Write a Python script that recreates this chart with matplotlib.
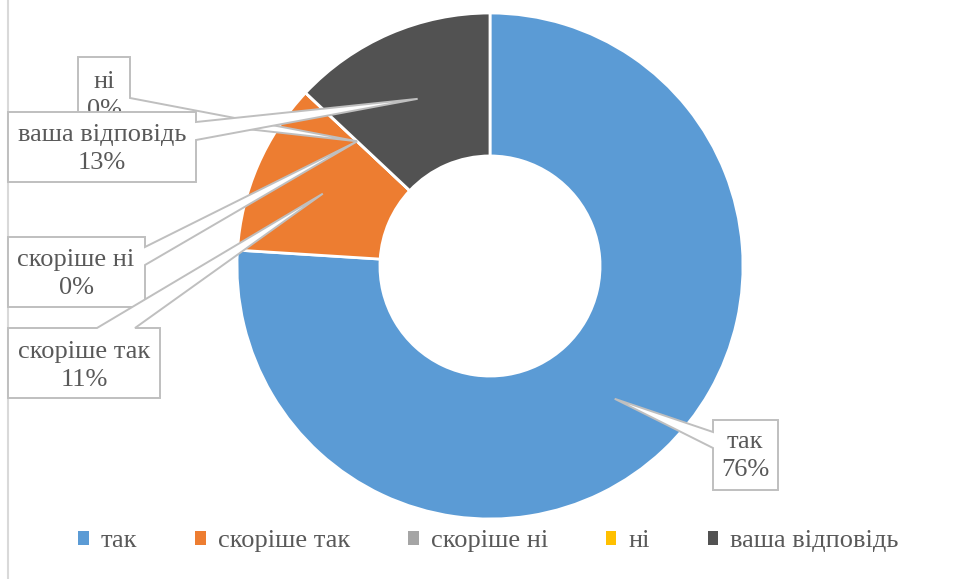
import numpy as np
import matplotlib.pyplot as plt
from matplotlib.patches import Polygon, Patch

# data
labels = ["так", "скоріше так", "скоріше ні", "ні", "ваша відповідь"]
values = [76, 11, 0, 0, 13]
colors = ["#5B9BD5", "#ED7D31", "#A5A5A5", "#FFC000", "#525252"]

TXT = "#595959"
EDGE = "#BFBFBF"
FONT = "Liberation Serif"

W, H = 958, 579
CX, CY, R = 490, 266, 253   # pie centre / radius in pixels

fig = plt.figure(figsize=(W / 100, H / 100), dpi=100)
ax = fig.add_axes([0, 0, 1, 1])

wedges, _ = ax.pie(values, colors=colors, startangle=90, counterclock=False,
                   radius=1, wedgeprops=dict(width=0.565, edgecolor="white", linewidth=2))
ax.set_aspect("auto")
ax.set_xlim(-CX / R, (W - CX) / R)
ax.set_ylim(-(H - CY) / R, CY / R)
ax.axis("off")


def p2d(px, py):
    return ((px - CX) / R, (CY - py) / R)


def tip_of(w):
    a = np.deg2rad((w.theta1 + w.theta2) / 2)
    return (0.72 * np.cos(a), 0.72 * np.sin(a))


# callout boxes: (box x0, y0, x1, y1 in px), side, pointer base, text centre
callouts = [
    (3, (78, 57, 130, 133), "right", (98, 116), (104, 96)),
    (4, (8, 112, 196, 182), "right", (122, 140), (102, 149)),
    (2, (8, 237, 145, 307), "right", (247, 265), (76, 274)),
    (1, (8, 328, 160, 398), "top", (97, 135), (84, 366)),
    (0, (713, 420, 778, 490), "left", (432, 448), (745, 456)),
]

z = 5
for i, (x0, y0, x1, y1), side, (b1, b2), (tx, ty) in callouts:
    tip = tip_of(wedges[i])
    if side == "right":
        pts = [p2d(x0, y0), p2d(x1, y0), p2d(x1, b1), tip, p2d(x1, b2),
               p2d(x1, y1), p2d(x0, y1)]
    elif side == "top":
        pts = [p2d(x0, y0), p2d(b1, y0), tip, p2d(b2, y0), p2d(x1, y0),
               p2d(x1, y1), p2d(x0, y1)]
    else:
        pts = [p2d(x0, y0), p2d(x1, y0), p2d(x1, y1), p2d(x0, y1),
               p2d(x0, b2), tip, p2d(x0, b1)]
    ax.add_patch(Polygon(pts, closed=True, facecolor="white", edgecolor=EDGE,
                         linewidth=1.4, zorder=z))
    txt = "%s\n%d%%" % (labels[i], values[i])
    ax.text(*p2d(tx, ty), txt, ha="center", va="center", fontsize=19,
            family=FONT, color=TXT, linespacing=1.35, zorder=z + 0.5)
    z += 1

# left border of the chart area
ax.plot([-(CX - 8) / R] * 2, [-(H - CY) / R, CY / R], color="#D9D9D9", lw=1.5)

handles = [Patch(facecolor=c, edgecolor="none") for c in colors]
fig.legend(handles, labels, loc="center", bbox_to_anchor=(0.51, 1 - 541 / H),
           ncol=5, frameon=False, handlelength=0.4, handleheight=0.45,
           handletextpad=0.45, columnspacing=2.2,
           prop=dict(family=FONT, size=19), labelcolor=TXT)

fig.savefig("out.png", dpi=100)
